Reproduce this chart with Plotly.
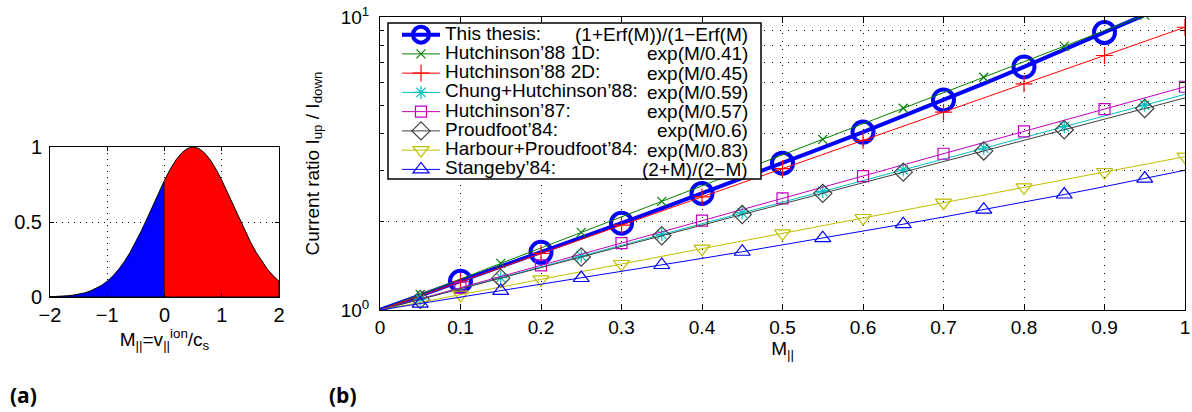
import plotly.graph_objects as go

# ---------------- data: panel (a) ----------------
v_par = [-2.0, -1.9, -1.8, -1.7, -1.6, -1.5, -1.4, -1.3, -1.2, -1.1, -1.0,
         -0.9, -0.8, -0.7, -0.6, -0.5, -0.4, -0.3, -0.2, -0.1, 0.0,
         0.1, 0.2, 0.3, 0.4, 0.5, 0.6, 0.7, 0.8, 0.9, 1.0,
         1.1, 1.2, 1.3, 1.4, 1.5, 1.6, 1.7, 1.8, 1.9, 2.0]
f_ion = [0.0019, 0.0032, 0.0050, 0.0079, 0.0122, 0.0183, 0.0271, 0.0392, 0.0556, 0.0773, 0.1054,
         0.1409, 0.1845, 0.2369, 0.2982, 0.3679, 0.4449, 0.5273, 0.6126, 0.6977, 0.7788,
         0.8521, 0.9139, 0.9608, 0.9900, 1.0000, 0.9900, 0.9608, 0.9139, 0.8521, 0.7788,
         0.6977, 0.6126, 0.5273, 0.4449, 0.3679, 0.2982, 0.2369, 0.1845, 0.1409, 0.1054]

# ---------------- data: panel (b) ----------------
M = [0.0, 0.05, 0.1, 0.15, 0.2, 0.25, 0.3, 0.35, 0.4, 0.45, 0.5,
     0.55, 0.6, 0.65, 0.7, 0.75, 0.8, 0.85, 0.9, 0.95, 1.0]
thesis = [1.0, 1.1195, 1.2534, 1.4038, 1.5730, 1.7637, 1.9790, 2.2226, 2.4989, 2.8130, 3.1710,
          3.5800, 4.0487, 4.5871, 5.2073, 5.9243, 6.7549, 7.7210, 8.8479, 10.166, 11.714]
hutch88_1d = [1.0, 1.1297, 1.2762, 1.4418, 1.6287, 1.8400, 2.0786, 2.3482, 2.6528, 2.9969, 3.3856,
              3.8247, 4.3207, 4.8812, 5.5143, 6.2295, 7.0375, 7.9503, 8.9814, 10.146, 11.462]
hutch88_2d = [1.0, 1.1175, 1.2488, 1.3956, 1.5596, 1.7429, 1.9477, 2.1766, 2.4324, 2.7183, 3.0377,
              3.3947, 3.7937, 4.2395, 4.7377, 5.2945, 5.9167, 6.6120, 7.3891, 8.2574, 9.2278]
chung_hutch88 = [1.0, 1.0884, 1.1847, 1.2895, 1.4035, 1.5276, 1.6627, 1.8098, 1.9698, 2.1441, 2.3337,
                 2.5401, 2.7647, 3.0092, 3.2753, 3.5650, 3.8803, 4.2235, 4.5970, 5.0035, 5.4461]
hutch87 = [1.0, 1.0917, 1.1918, 1.3010, 1.4203, 1.5505, 1.6927, 1.8479, 2.0173, 2.2022, 2.4042,
           2.6246, 2.8652, 3.1279, 3.4147, 3.7277, 4.0695, 4.4426, 4.8499, 5.2945, 5.7799]
proudfoot84 = [1.0, 1.0869, 1.1814, 1.2840, 1.3956, 1.5169, 1.6487, 1.7920, 1.9477, 2.1170, 2.3010,
               2.5009, 2.7183, 2.9545, 3.2113, 3.4903, 3.7937, 4.1234, 4.4817, 4.8712, 5.2945]
harbour_proud84 = [1.0, 1.0621, 1.1280, 1.1981, 1.2725, 1.3515, 1.4354, 1.5245, 1.6192, 1.7197, 1.8265,
                   1.9399, 2.0604, 2.1883, 2.3242, 2.4685, 2.6217, 2.7845, 2.9574, 3.1411, 3.3361]
stangeby84 = [1.0, 1.0513, 1.1053, 1.1622, 1.2222, 1.2857, 1.3529, 1.4242, 1.5000, 1.5806, 1.6667,
              1.7586, 1.8571, 1.9630, 2.0769, 2.2000, 2.3333, 2.4783, 2.6364, 2.8095, 3.0000]

names = ["This thesis:", "Hutchinson’88 1D:", "Hutchinson’88 2D:", "Chung+Hutchinson’88:",
         "Hutchinson’87:", "Proudfoot’84:", "Harbour+Proudfoot’84:", "Stangeby’84:"]
formulas = ["(1+Erf(M))/(1−Erf(M)", "exp(M/0.41)", "exp(M/0.45)", "exp(M/0.59)",
            "exp(M/0.57)", "exp(M/0.6)", "exp(M/0.83)", "(2+M)/(2−M)"]
series = [thesis, hutch88_1d, hutch88_2d, chung_hutch88, hutch87, proudfoot84, harbour_proud84, stangeby84]
colors = ["#0000ff", "#008000", "#ff0000", "#00bfbf", "#bf00bf", "#404040", "#bfbf00", "#0000ff"]
symbols = ["circle-open", "x-thin-open", "cross-thin-open", "asterisk-open",
           "square-open", "diamond-open", "triangle-down-open", "triangle-up-open"]
msizes = [21, 9, 12, 11, 11, 14, 14, 14]
lwidths = [4, 1, 1, 1, 1, 1, 1, 1]
mwidths = [4, 1.2, 1.2, 1.2, 1.2, 1.2, 1.2, 1.2]
even_idx = list(range(2, 21, 2))
odd_idx = list(range(1, 20, 2))
marker_idx = [list(range(2, 19, 2)), odd_idx, even_idx, odd_idx, even_idx, odd_idx, even_idx, odd_idx]

W, H = 1192, 412
def px(x): return x / W
def py(y): return 1 - y / H

FONT = "Liberation Sans, Arial, Helvetica, sans-serif"

fig = go.Figure()

# ---- panel (a) ----
nb = v_par.index(0.0)
fig.add_trace(go.Scatter(x=v_par[:nb + 1] + [0.0, v_par[0]], y=f_ion[:nb + 1] + [0.0, 0.0],
                         fill="toself", fillcolor="#0000ff", mode="lines",
                         line=dict(color="black", width=1), xaxis="x2", yaxis="y2",
                         showlegend=False, hoverinfo="skip"))
fig.add_trace(go.Scatter(x=v_par[nb:] + [v_par[-1], 0.0], y=f_ion[nb:] + [0.0, 0.0],
                         fill="toself", fillcolor="#ff0000", mode="lines",
                         line=dict(color="black", width=1), xaxis="x2", yaxis="y2",
                         showlegend=False, hoverinfo="skip"))

# ---- panel (b) ----
for s, c, sym, ms, lw, mw, idx, nm in zip(series, colors, symbols, msizes, lwidths, mwidths, marker_idx, names):
    fig.add_trace(go.Scatter(x=M, y=s, mode="lines", line=dict(color=c, width=lw),
                             showlegend=False, xaxis="x", yaxis="y"))
    fig.add_trace(go.Scatter(x=[M[i] for i in idx], y=[s[i] for i in idx], mode="markers",
                             marker=dict(symbol=sym, size=ms, color=c, line=dict(color=c, width=mw)),
                             showlegend=False, xaxis="x", yaxis="y"))
    fig.add_trace(go.Scatter(x=[None], y=[None], mode="lines+markers",
                             name='<span style="font-size:19px">' + nm + '</span>',
                             line=dict(color=c, width=lw),
                             marker=dict(symbol=sym, size=ms, color=c, line=dict(color=c, width=mw)),
                             xaxis="x", yaxis="y"))

grid_dash = "1px,7px"
fig.update_layout(
    width=W, height=H, margin=dict(l=0, r=0, t=0, b=0, autoexpand=False),
    paper_bgcolor="white", plot_bgcolor="white",
    font=dict(family=FONT, size=19, color="black"),
    showlegend=True,
    legend=dict(x=px(397), y=py(20), xanchor="left", yanchor="top",
                bgcolor="rgba(0,0,0,0)", borderwidth=0, itemwidth=38,
                font=dict(size=12.5, family=FONT), tracegroupgap=0),
    xaxis=dict(domain=[px(380), px(1185)], anchor="y", range=[0, 1], dtick=0.1, tick0=0,
               automargin=False,
               showline=True, linecolor="black", linewidth=1, mirror="allticks",
               ticks="inside", ticklen=6, tickcolor="black",
               showgrid=True, gridcolor="black", gridwidth=1, griddash=grid_dash,
               zeroline=False, tickfont=dict(size=19),
               title=dict(text="M<sub>||</sub>", font=dict(size=19), standoff=0)),
    yaxis=dict(domain=[py(310), py(17)], anchor="x", type="log", range=[0, 1],
               automargin=False,
               tickmode="array", tickvals=[1, 10], ticktext=["10<sup>0</sup>", "10<sup>1</sup>"],
               showline=True, linecolor="black", linewidth=1, mirror="allticks",
               ticks="inside", ticklen=6, tickcolor="black", showgrid=False,
               ticklabelstandoff=6,
               minor=dict(tickmode="array", tickvals=[2, 3, 4, 5, 6, 7, 8, 9], ticks="inside",
                          ticklen=4, tickcolor="black", showgrid=True, gridcolor="black",
                          gridwidth=1, griddash=grid_dash),
               zeroline=False, tickfont=dict(size=19),
               title=dict(text="Current ratio I<sub>up</sub> / I<sub>down</sub>", font=dict(size=19), standoff=16)),
    xaxis2=dict(domain=[px(50), px(279)], anchor="y2", range=[-2, 2], dtick=1, tick0=0,
                automargin=False,
                showline=True, linecolor="black", linewidth=1, mirror="allticks",
                ticks="inside", ticklen=4, tickcolor="black",
                showgrid=True, gridcolor="black", gridwidth=1, griddash="1px,5px",
                zeroline=False, tickfont=dict(size=20),
                title=dict(text="M<sub>||</sub>=v<sub>||</sub><sup>ion</sup>/c<sub>s</sub>",
                           font=dict(size=19), standoff=0)),
    yaxis2=dict(domain=[py(297), py(147)], anchor="x2", range=[0, 1], tickvals=[0, 0.5, 1],
                automargin=False, ticklabelstandoff=3,
                ticktext=["0", "0.5", "1"],
                showline=True, linecolor="black", linewidth=1, mirror="allticks",
                ticks="inside", ticklen=4, tickcolor="black",
                showgrid=True, gridcolor="black", gridwidth=1, griddash="1px,5px",
                zeroline=False, tickfont=dict(size=20)),
)

# legend frame (white box over grid)
fig.add_shape(type="rect", xref="paper", yref="paper", x0=px(388), x1=px(761), y0=py(179), y1=py(23),
              fillcolor="white", line=dict(color="black", width=1.5), layer="above")

row0, dy = 34.5, 19.25
for k, ftxt in enumerate(formulas):
    fig.add_annotation(x=px(750), y=py(row0 + k * dy), xref="paper", yref="paper",
                       text=ftxt, showarrow=False, xanchor="right", yanchor="middle",
                       font=dict(size=19, family=FONT, color="black"))

fig.add_annotation(x=px(8), y=py(395), xref="paper", yref="paper", text="<b>(a)</b>",
                   showarrow=False, xanchor="left", yanchor="middle",
                   font=dict(size=21, family="Open Sans, Arial, sans-serif", color="black"))
fig.add_annotation(x=px(327), y=py(395), xref="paper", yref="paper", text="<b>(b)</b>",
                   showarrow=False, xanchor="left", yanchor="middle",
                   font=dict(size=21, family="Open Sans, Arial, sans-serif", color="black"))

fig.write_html("out.html", config={"displayModeBar": False},
               post_script="document.body.style.margin='0px';document.body.style.padding='0px';")
